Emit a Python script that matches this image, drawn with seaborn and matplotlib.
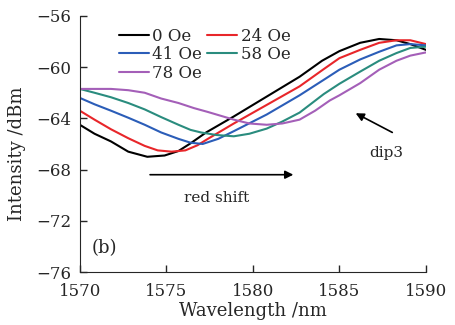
import numpy as np
import pandas as pd
import seaborn as sns
import matplotlib
matplotlib.use("Agg")
import matplotlib.pyplot as plt

# Data
wl_0 = [1570, 1570.85, 1571.8, 1572.8, 1573.9, 1574.9, 1575.7, 1576.4, 1577.3, 1578.9,
        1580.8, 1582.7, 1584.0, 1585.0, 1586.2, 1587.3, 1588.3, 1589.1, 1590]
int_0 = [-64.5, -65.2, -65.8, -66.6, -67.0, -66.9, -66.55, -65.95, -65.1, -63.85,
         -62.3, -60.75, -59.5, -58.75, -58.1, -57.8, -57.9, -58.2, -58.65]

wl_24 = [1570, 1570.85, 1571.8, 1572.8, 1573.75, 1574.5, 1575.3, 1576.1, 1576.8, 1577.4,
         1578.9, 1580.8, 1582.7, 1584.1, 1585.0, 1586.2, 1587.3, 1588.3, 1589.1, 1590]
int_24 = [-63.4, -64.1, -64.85, -65.55, -66.15, -66.5, -66.6, -66.5, -66.1, -65.6,
          -64.4, -62.95, -61.5, -60.15, -59.3, -58.65, -58.1, -57.9, -57.9, -58.2]

wl_41 = [1570, 1570.85, 1571.8, 1572.8, 1573.75, 1574.7, 1575.7, 1576.4, 1577.1, 1578.0,
         1578.9, 1580.8, 1582.7, 1584.2, 1585.0, 1586.2, 1587.3, 1588.3, 1589.1, 1590]
int_41 = [-62.4, -62.9, -63.4, -63.95, -64.5, -65.1, -65.6, -65.9, -66.0, -65.6,
          -65.0, -63.7, -62.2, -60.9, -60.2, -59.4, -58.8, -58.3, -58.2, -58.3]

wl_58 = [1570, 1570.85, 1571.8, 1572.8, 1573.75, 1574.7, 1575.7, 1576.4, 1577.0, 1577.9,
         1578.9, 1579.8, 1580.8, 1581.7, 1582.7, 1584.1, 1585.0, 1586.2, 1587.3, 1588.3,
         1589.1, 1590]
int_58 = [-61.7, -62.0, -62.35, -62.8, -63.3, -63.9, -64.5, -64.9, -65.1, -65.3,
          -65.4, -65.2, -64.8, -64.25, -63.55, -62.1, -61.3, -60.35, -59.5, -58.9,
          -58.5, -58.4]

wl_78 = [1570, 1571.8, 1572.8, 1573.75, 1574.7, 1575.7, 1576.6, 1577.4, 1578.9, 1579.8,
         1580.8, 1581.7, 1582.7, 1583.6, 1584.45, 1585.0, 1586.2, 1587.3, 1588.3, 1589.1,
         1590]
int_78 = [-61.7, -61.7, -61.8, -62.0, -62.45, -62.8, -63.2, -63.5, -64.1, -64.4,
          -64.5, -64.4, -64.1, -63.4, -62.6, -62.2, -61.25, -60.2, -59.5, -59.1,
          -58.85]

labels = ["0 Oe", "24 Oe", "41 Oe", "58 Oe", "78 Oe"]
colors = ["#000000", "#e8262a", "#2b5db8", "#2a8c7e", "#a45fb8"]

frames = []
for lab, w, v in zip(labels, [wl_0, wl_24, wl_41, wl_58, wl_78],
                     [int_0, int_24, int_41, int_58, int_78]):
    frames.append(pd.DataFrame({"Wavelength": w, "Intensity": v, "Field": lab}))
df = pd.concat(frames, ignore_index=True)

sns.set_style("ticks")
plt.rcParams['font.family'] = ['DejaVu Serif']
plt.rcParams['mathtext.fontset'] = 'dejavuserif'

fig = plt.figure(figsize=(4.56, 3.25), dpi=100)
ax = fig.add_axes([0.175, 0.163, 0.759, 0.788])

sns.lineplot(data=df, x="Wavelength", y="Intensity", hue="Field",
             hue_order=labels, palette=colors, linewidth=1.5, ax=ax,
             sort=False, legend=True)

ax.set_xlim(1570, 1590)
ax.set_ylim(-76, -56)
ax.set_xticks([1570, 1575, 1580, 1585, 1590])
ax.set_yticks([-76, -72, -68, -64, -60, -56])
ax.tick_params(direction='in', labelsize=12, length=5, width=1)
ax.tick_params(axis='x', pad=8)
ax.tick_params(axis='y', pad=6)
ax.set_xlabel("Wavelength /nm", fontsize=13, labelpad=1)
ax.set_ylabel("Intensity /dBm", fontsize=13)
ax.yaxis.set_label_coords(-0.155, 0.46)
sns.despine(ax=ax)

handles, labs = ax.get_legend_handles_labels()
hmap = dict(zip(labs, handles))
order = ["0 Oe", "41 Oe", "78 Oe", "24 Oe", "58 Oe"]
ax.legend([hmap[o] for o in order], order, ncol=2, frameon=False,
          loc='upper left', bbox_to_anchor=(0.08, 1.0), fontsize=12,
          handlelength=1.8, handletextpad=0.2, columnspacing=0.3,
          labelspacing=0.1, borderpad=0.2)

ax.annotate("", xy=(1582.5, -68.4), xytext=(1573.9, -68.4),
            arrowprops=dict(arrowstyle="-|>", color="black", lw=1.2,
                            mutation_scale=12))
ax.text(1577.9, -70.2, "red shift", ha='center', va='center', fontsize=11)
ax.annotate("", xy=(1585.8, -63.5), xytext=(1588.2, -65.2),
            arrowprops=dict(arrowstyle="-|>", color="black", lw=1.2,
                            mutation_scale=12))
ax.text(1587.7, -66.7, "dip3", ha='center', va='center', fontsize=11)
ax.text(1571.4, -74.1, "(b)", ha='center', va='center', fontsize=13)

fig.savefig("out.png", dpi=100)
